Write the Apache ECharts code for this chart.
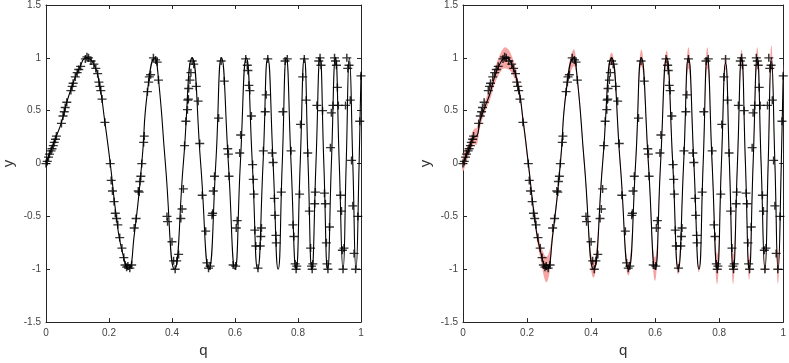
<!DOCTYPE html>
<html>
<head>
<meta charset="utf-8">
<script src="https://cdn.jsdelivr.net/npm/echarts@6/dist/echarts.min.js"></script>
<style>
  html, body { margin: 0; padding: 0; background: #fff; }
  #chart { width: 789px; height: 363px; }
</style>
</head>
<body>
<div id="chart"></div>
<script>
// fitted curve (left panel)
const qFit = [0, 0.033, 0.049, 0.066, 0.086, 0.104, 0.130, 0.152, 0.168, 0.187, 0.204, 0.224, 0.241, 0.262, 0.280, 0.304, 0.322, 0.345, 0.357, 0.379, 0.408, 0.436, 0.464, 0.491, 0.517, 0.539, 0.557, 0.579, 0.600, 0.617, 0.636, 0.655, 0.672, 0.689, 0.704, 0.721, 0.737, 0.750, 0.763, 0.778, 0.794, 0.807, 0.820, 0.832, 0.844, 0.857, 0.870, 0.882, 0.894, 0.906, 0.919, 0.931, 0.943, 0.953, 0.963, 0.974, 0.984, 0.994, 1.0]
const yFit = [0, 0.26, 0.39, 0.58, 0.76, 0.89, 1.0, 0.94, 0.78, 0.39, 0, -0.52, -0.82, -1.0, -0.68, 0, 0.68, 1, 0.80, 0, -1, 0, 1, 0, -1, 0, 1, 0, -1, 0, 1, 0, -1, 0, 1, 0, -1, 0, 1, 0, -1, 0, 1, 0, -1, 0, 1, 0, -1, 0, 1, 0, -1, 0, 1, 0, -1, 0, 0.85]

// GP mean and band half-width (right panel)
const qMean = [0, 0.016, 0.033, 0.043, 0.053, 0.069, 0.084, 0.100, 0.120, 0.133, 0.152, 0.172, 0.188, 0.204, 0.224, 0.241, 0.262, 0.280, 0.304, 0.322, 0.345, 0.357, 0.379, 0.408, 0.436, 0.464, 0.491, 0.517, 0.539, 0.557, 0.579, 0.600, 0.617, 0.636, 0.655, 0.672, 0.689, 0.704, 0.721, 0.737, 0.750, 0.763, 0.778, 0.794, 0.807, 0.820, 0.832, 0.844, 0.857, 0.870, 0.882, 0.894, 0.906, 0.919, 0.931, 0.943, 0.953, 0.963, 0.974, 0.984, 0.994, 1.0]
const yMean = [0, 0.12, 0.25, 0.26, 0.40, 0.54, 0.66, 0.83, 0.97, 1.0, 0.94, 0.74, 0.40, 0, -0.52, -0.82, -1.0, -0.68, 0, 0.68, 1, 0.80, 0, -1, 0, 1, 0, -1, 0, 1, 0, -1, 0, 1, 0, -1, 0, 1, 0, -1, 0, 1, 0, -1, 0, 0.95, 0, -1, 0, 1, 0, -1, 0, 1, 0, -1, 0, 1, 0, -1, 0, 0.85]
const sigma = [0.07, 0.06, 0.07, 0.08, 0.06, 0.05, 0.06, 0.07, 0.09, 0.10, 0.08, 0.05, 0.05, 0.05, 0.05, 0.07, 0.12, 0.06, 0.05, 0.05, 0.08, 0.05, 0.05, 0.08, 0.05, 0.05, 0.05, 0.06, 0.05, 0.08, 0.05, 0.11, 0.05, 0.07, 0.05, 0.05, 0.05, 0.10, 0.05, 0.03, 0.05, 0.10, 0.05, 0.14, 0.05, 0.06, 0.05, 0.14, 0.05, 0.08, 0.05, 0.10, 0.05, 0.10, 0.05, 0.05, 0.05, 0.12, 0.05, 0.14, 0.05, 0.08]

// observations (same in both panels)
const qObs = [0.000, 0.004, 0.008, 0.011, 0.016, 0.019, 0.023, 0.026, 0.030, 0.033, 0.049, 0.054, 0.058, 0.061, 0.066, 0.079, 0.083, 0.086, 0.093, 0.099, 0.104, 0.110, 0.125, 0.130, 0.135, 0.143, 0.152, 0.158, 0.164, 0.168, 0.171, 0.174, 0.178, 0.187, 0.204, 0.207, 0.211, 0.216, 0.220, 0.224, 0.228, 0.234, 0.241, 0.247, 0.251, 0.256, 0.260, 0.266, 0.272, 0.280, 0.286, 0.293, 0.296, 0.298, 0.301, 0.304, 0.310, 0.312, 0.322, 0.326, 0.328, 0.332, 0.341, 0.348, 0.353, 0.357, 0.384, 0.386, 0.400, 0.405, 0.410, 0.415, 0.421, 0.428, 0.432, 0.436, 0.440, 0.444, 0.449, 0.450, 0.452, 0.453, 0.457, 0.460, 0.464, 0.469, 0.477, 0.483, 0.488, 0.496, 0.507, 0.511, 0.516, 0.521, 0.527, 0.529, 0.531, 0.535, 0.548, 0.556, 0.566, 0.577, 0.579, 0.581, 0.594, 0.602, 0.604, 0.607, 0.615, 0.618, 0.634, 0.639, 0.641, 0.644, 0.647, 0.652, 0.656, 0.658, 0.660, 0.663, 0.666, 0.673, 0.680, 0.682, 0.684, 0.690, 0.696, 0.699, 0.704, 0.718, 0.721, 0.725, 0.727, 0.730, 0.731, 0.747, 0.752, 0.759, 0.766, 0.778, 0.784, 0.787, 0.791, 0.794, 0.796, 0.805, 0.808, 0.815, 0.820, 0.826, 0.831, 0.836, 0.840, 0.843, 0.845, 0.847, 0.853, 0.855, 0.860, 0.866, 0.870, 0.873, 0.878, 0.884, 0.887, 0.890, 0.892, 0.895, 0.900, 0.903, 0.906, 0.911, 0.916, 0.919, 0.922, 0.925, 0.928, 0.935, 0.938, 0.941, 0.943, 0.946, 0.951, 0.955, 0.958, 0.962, 0.966, 0.970, 0.974, 0.978, 0.983, 0.990, 0.996, 1.000]
const yObs = [0.00, 0.02, 0.06, 0.09, 0.12, 0.14, 0.17, 0.20, 0.23, 0.26, 0.38, 0.45, 0.49, 0.53, 0.58, 0.69, 0.73, 0.76, 0.82, 0.86, 0.89, 0.92, 0.99, 1.01, 1.00, 0.97, 0.94, 0.90, 0.85, 0.77, 0.73, 0.69, 0.61, 0.39, 0.00, -0.16, -0.26, -0.36, -0.47, -0.52, -0.58, -0.70, -0.80, -0.89, -0.96, -0.98, -0.97, -0.99, -0.96, -0.61, -0.52, -0.26, -0.27, -0.17, -0.12, 0.00, 0.20, 0.26, 0.68, 0.77, 0.82, 0.84, 1.00, 0.98, 0.96, 0.79, -0.50, -0.55, -0.74, -0.92, -1.00, -0.92, -0.86, -0.52, -0.43, -0.24, 0.17, 0.40, 0.51, 0.60, 0.61, 0.71, 0.79, 0.86, 0.97, 0.94, 0.73, 0.59, 0.19, -0.30, -0.64, -0.94, -0.99, -0.97, -0.49, -0.47, -0.26, -0.12, 0.43, 0.97, 0.78, 0.14, 0.09, -0.12, -0.96, -0.97, -0.61, -0.54, 0.10, 0.27, 0.99, 0.93, 0.88, 0.74, 0.69, 0.45, -0.01, -0.15, -0.29, -0.63, -0.78, -0.99, -0.78, -0.69, -0.61, 0.12, 0.49, 0.65, 0.99, 0.10, 0.01, -0.33, -0.49, -0.68, -0.75, -0.27, 0.49, 0.97, 0.99, 0.12, -0.58, -0.69, -0.95, -1.00, -0.97, -0.29, 0.37, 0.82, 0.99, 0.60, 0.10, -0.45, -0.80, -0.97, -1.00, -0.95, -0.38, -0.27, 0.55, 0.97, 1.00, 0.93, 0.50, -0.28, -0.38, -0.75, -0.95, -1.00, -0.60, 0.15, 0.48, 0.55, 1.00, 0.97, 0.93, 0.72, 0.55, -0.30, -0.45, -0.82, -1.00, -0.80, 0.55, 1.00, 0.90, 0.93, 0.60, 0.03, -0.40, -0.85, -1.00, -0.50, 0.40, 0.83]

const xTicks = { min: 0, max: 1, interval: 0.2 }
const yTicks = { min: -1.5, max: 1.5, interval: 0.5 }

const chart = echarts.init(document.getElementById('chart'))

const axisColor = '#262626'
const labelStyle = { color: '#444', fontSize: 10, fontFamily: 'Liberation Sans, Arial, sans-serif' }
const nameStyle = { color: '#333', fontSize: 15, fontFamily: 'Liberation Sans, Arial, sans-serif' }

const zip = (a, b) => a.map((v, i) => [v, b[i]])
const plusSymbol = 'path://M5,0L5,10M0,5L10,5'

const baseAxis = (grid, position, ticks) => ({
  gridIndex: grid, type: 'value', position, ...ticks,
  axisLine: { show: true, onZero: false, lineStyle: { color: axisColor, width: 1 } },
  axisTick: { inside: true, length: 4, lineStyle: { color: axisColor } },
  splitLine: { show: false }
})

function xAxes(grid) {
  return [
    {
      ...baseAxis(grid, 'bottom', xTicks),
      name: 'q', nameLocation: 'middle', nameGap: 19, nameTextStyle: nameStyle,
      axisLabel: { ...labelStyle, margin: 6 }
    },
    { ...baseAxis(grid, 'top', xTicks), axisLabel: { show: false } }
  ]
}

function yAxes(grid) {
  return [
    {
      ...baseAxis(grid, 'left', yTicks),
      name: 'y', nameLocation: 'middle', nameGap: 30, nameTextStyle: nameStyle,
      axisLabel: { ...labelStyle, margin: 5 }
    },
    { ...baseAxis(grid, 'right', yTicks), axisLabel: { show: false } }
  ]
}

const plusSeries = (xi, yi) => ({
  type: 'scatter', xAxisIndex: xi, yAxisIndex: yi,
  data: zip(qObs, yObs), symbol: plusSymbol, symbolSize: [9, 8],
  itemStyle: { color: 'none', borderColor: '#000', borderWidth: 1.4 }, z: 3
})

const option = {
  animation: false,
  grid: [
    { left: 40, top: 4, width: 321, height: 321 },
    { left: 463, top: 4, width: 321, height: 321 }
  ],
  xAxis: [...xAxes(0), ...xAxes(1)],
  yAxis: [...yAxes(0), ...yAxes(1)],
  series: [
    // left panel
    {
      type: 'line', xAxisIndex: 0, yAxisIndex: 0,
      data: zip(qFit, yFit), smooth: 0.55, showSymbol: false,
      lineStyle: { color: '#000', width: 1.1 }, z: 2
    },
    plusSeries(0, 0),
    // right panel: uncertainty band as one polygon (upper edge, then lower edge back)
    {
      type: 'custom', xAxisIndex: 2, yAxisIndex: 2, data: [0], z: 1, silent: true,
      renderItem: (params, api) => {
        const upper = qMean.map((q, i) => api.coord([q, yMean[i] + sigma[i]]))
        const lower = qMean.map((q, i) => api.coord([q, yMean[i] - sigma[i]])).reverse()
        return {
          type: 'polygon',
          shape: { points: upper.concat(lower), smooth: 0.45 },
          style: { fill: '#f6a5a5' }
        }
      }
    },
    {
      type: 'line', xAxisIndex: 2, yAxisIndex: 2,
      data: zip(qMean, yMean), smooth: 0.55, showSymbol: false,
      lineStyle: { color: '#000', width: 1.1 }, z: 2
    },
    plusSeries(2, 2)
  ]
}

chart.setOption(option)
</script>
</body>
</html>
